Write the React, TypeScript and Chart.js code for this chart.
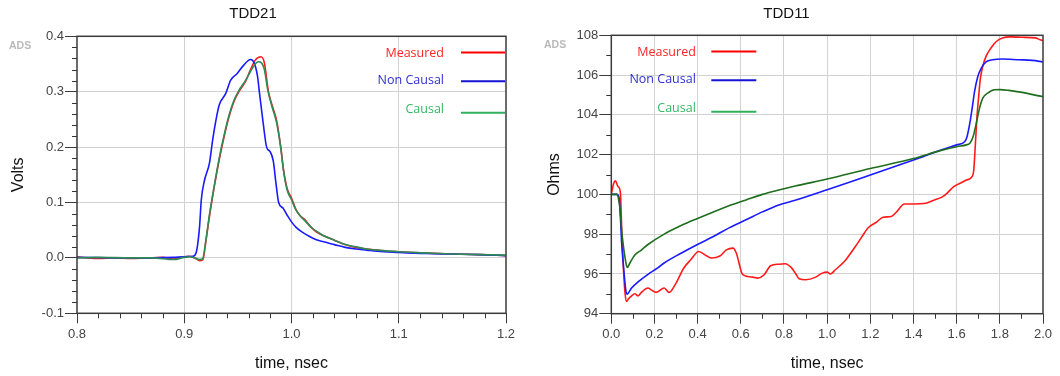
import React, { useEffect, useRef } from 'react';
import { Chart, registerables } from 'chart.js';

Chart.register(...registerables);

const FONT = '"Liberation Sans", Arial, sans-serif';
const LEGEND_FONT = '"Open Sans", "Noto Sans", sans-serif';

// ---------- TDD21 (Volts vs time, nsec) ----------
const tdd21MeasuredT = [0.800, 0.810, 0.820, 0.835, 0.850, 0.865, 0.880, 0.890, 0.897, 0.904, 0.910, 0.9143, 0.9174, 0.9204, 0.9235, 0.928, 0.9326, 0.9372, 0.9418, 0.9463, 0.9509, 0.957, 0.9616, 0.9662, 0.9716, 0.9747, 0.9785, 0.982, 0.986, 0.990, 0.9925, 0.996, 1.000, 1.004, 1.008, 1.013, 1.018, 1.023, 1.030, 1.040, 1.050, 1.060, 1.070, 1.080, 1.090, 1.100, 1.120, 1.150, 1.175, 1.200];
const tdd21MeasuredV = [0.002, 0.000, -0.001, 0.000, -0.001, 0.000, 0.001, -0.002, 0.001, 0.003, 0.000, -0.005, -0.003, 0.033, 0.075, 0.129, 0.177, 0.219, 0.255, 0.282, 0.300, 0.318, 0.339, 0.357, 0.363, 0.352, 0.300, 0.275, 0.249, 0.200, 0.160, 0.125, 0.108, 0.088, 0.076, 0.068, 0.056, 0.047, 0.040, 0.032, 0.024, 0.019, 0.016, 0.014, 0.012, 0.011, 0.009, 0.007, 0.006, 0.004];

const tdd21NonCausalT = [0.800, 0.850, 0.890, 0.900, 0.908, 0.911, 0.9143, 0.9159, 0.919, 0.9235, 0.9265, 0.9296, 0.9326, 0.9387, 0.9433, 0.9494, 0.9555, 0.9618, 0.9652, 0.9683, 0.970, 0.9738, 0.9768, 0.980, 0.983, 0.9855, 0.988, 0.992, 0.996, 1.000, 1.0043, 1.0104, 1.0165, 1.0226, 1.030, 1.040, 1.050, 1.060, 1.070, 1.080, 1.100, 1.125, 1.150, 1.175, 1.200];
const tdd21NonCausalV = [0.001, 0.000, 0.001, 0.002, 0.003, 0.009, 0.057, 0.105, 0.141, 0.171, 0.213, 0.249, 0.276, 0.297, 0.321, 0.333, 0.348, 0.358, 0.352, 0.328, 0.300, 0.240, 0.200, 0.192, 0.175, 0.135, 0.100, 0.090, 0.077, 0.065, 0.055, 0.046, 0.039, 0.033, 0.029, 0.024, 0.019, 0.016, 0.014, 0.012, 0.010, 0.008, 0.007, 0.006, 0.004];

const tdd21CausalT = [0.800, 0.820, 0.850, 0.870, 0.890, 0.900, 0.905, 0.910, 0.9143, 0.917, 0.9204, 0.9235, 0.928, 0.9326, 0.9372, 0.9418, 0.9463, 0.9509, 0.957, 0.9616, 0.9662, 0.9692, 0.972, 0.9747, 0.978, 0.982, 0.986, 0.990, 0.9925, 0.996, 1.000, 1.004, 1.009, 1.013, 1.019, 1.025, 1.030, 1.040, 1.050, 1.060, 1.070, 1.080, 1.100, 1.125, 1.150, 1.175, 1.200];
const tdd21CausalV = [0.000, 0.001, 0.000, 0.000, -0.003, 0.001, 0.002, 0.000, -0.003, -0.002, 0.035, 0.078, 0.130, 0.180, 0.222, 0.258, 0.284, 0.302, 0.320, 0.336, 0.350, 0.354, 0.352, 0.340, 0.302, 0.272, 0.245, 0.198, 0.158, 0.122, 0.105, 0.087, 0.074, 0.066, 0.054, 0.046, 0.040, 0.032, 0.024, 0.020, 0.016, 0.014, 0.011, 0.009, 0.007, 0.006, 0.005];

// ---------- TDD11 (Ohms vs time, nsec) ----------
const tdd11MeasuredT = [0.000, 0.011, 0.019, 0.031, 0.042, 0.048, 0.056, 0.064, 0.071, 0.079, 0.094, 0.109, 0.124, 0.139, 0.170, 0.185, 0.208, 0.245, 0.268, 0.298, 0.336, 0.367, 0.405, 0.427, 0.465, 0.503, 0.533, 0.564, 0.579, 0.609, 0.655, 0.677, 0.708, 0.738, 0.776, 0.806, 0.836, 0.855, 0.870, 0.900, 0.947, 0.977, 1.000, 1.015, 1.038, 1.084, 1.129, 1.160, 1.190, 1.228, 1.259, 1.297, 1.320, 1.358, 1.403, 1.449, 1.494, 1.532, 1.555, 1.585, 1.623, 1.645, 1.668, 1.679, 1.686, 1.694, 1.702, 1.709, 1.721, 1.736, 1.759, 1.785, 1.812, 1.850, 1.903, 1.964, 1.986, 2.000];
const tdd11MeasuredV = [100.0, 100.55, 100.68, 100.4, 100.1, 98.3, 96.3, 95.0, 94.62, 94.74, 94.9, 95.0, 94.9, 95.07, 95.29, 95.2, 95.07, 95.29, 95.07, 95.5, 96.3, 96.7, 97.13, 97.01, 96.8, 96.9, 97.21, 97.3, 97.05, 95.96, 95.84, 95.79, 95.96, 96.41, 96.49, 96.51, 96.29, 96.0, 95.76, 95.71, 95.84, 96.04, 96.09, 96.0, 96.21, 96.68, 97.35, 97.85, 98.32, 98.6, 98.85, 98.89, 99.1, 99.52, 99.52, 99.54, 99.71, 99.86, 100.05, 100.38, 100.6, 100.72, 100.85, 101.2, 102.4, 103.9, 104.92, 105.76, 106.44, 106.94, 107.36, 107.7, 107.87, 107.92, 107.9, 107.87, 107.78, 107.74];

const tdd11NonCausalT = [0.000, 0.026, 0.036, 0.042, 0.048, 0.058, 0.067, 0.074, 0.079, 0.094, 0.124, 0.170, 0.215, 0.245, 0.321, 0.397, 0.473, 0.548, 0.624, 0.700, 0.776, 0.852, 1.000, 1.200, 1.400, 1.524, 1.600, 1.638, 1.648, 1.661, 1.673, 1.683, 1.698, 1.714, 1.736, 1.767, 1.812, 1.888, 1.950, 2.000];
const tdd11NonCausalV = [100.0, 100.0, 99.82, 98.9, 97.55, 96.2, 95.2, 94.98, 95.04, 95.29, 95.6, 95.98, 96.3, 96.55, 97.03, 97.47, 97.88, 98.33, 98.72, 99.12, 99.47, 99.7, 100.23, 100.98, 101.73, 102.22, 102.49, 102.66, 102.9, 103.58, 104.42, 105.18, 105.93, 106.35, 106.66, 106.77, 106.81, 106.77, 106.74, 106.66];

const tdd11CausalT = [0.000, 0.025, 0.033, 0.041, 0.048, 0.056, 0.064, 0.071, 0.075, 0.086, 0.109, 0.139, 0.170, 0.245, 0.321, 0.397, 0.473, 0.548, 0.624, 0.700, 0.776, 0.852, 1.000, 1.200, 1.400, 1.524, 1.600, 1.645, 1.661, 1.676, 1.691, 1.706, 1.721, 1.744, 1.774, 1.800, 1.842, 1.903, 1.964, 2.000];
const tdd11CausalV = [100.0, 100.0, 99.8, 99.2, 98.2, 97.4, 96.8, 96.4, 96.33, 96.55, 96.95, 97.2, 97.48, 98.0, 98.42, 98.78, 99.12, 99.44, 99.72, 100.0, 100.22, 100.42, 100.77, 101.3, 101.8, 102.2, 102.4, 102.49, 102.57, 102.9, 103.58, 104.34, 104.84, 105.09, 105.26, 105.27, 105.23, 105.13, 104.99, 104.92];

const seriesLabels = ['Measured', 'Non Causal', 'Causal'];

type Series = {
  label: string; t: number[]; v: number[];
  color: string; legendLine: string; legendText: string; order: number;
};

type PanelSpec = {
  title: string; yTitle: string;
  xMin: number; xMax: number; xMinor: number; xMajor: number;
  yMin: number; yMax: number; yMinor: number; yMajor: number; yDigits: number;
  yScaleWidth: number; xScaleHeight: number; padRight: number; titlePadBottom: number; yTitlePad: number;
  legendFromRight: boolean; legendTextOff: number; legendLineOff: [number, number];
  adsX: number;
  series: Series[];
};

const zip = (t: number[], v: number[]) => {
  const n = Math.min(t.length, v.length);
  const out: { x: number; y: number }[] = [];
  for (let i = 0; i < n; i++) out.push({ x: t[i], y: v[i] });
  return out;
};

const isMajor = (v: number, step: number) => {
  const r = v / step;
  return Math.abs(r - Math.round(r)) < 1e-6;
};

const LEGEND_TEXT_ROWS = [17.5, 44.5, 73.5];
const LEGEND_LINE_ROWS = [16.3, 45, 76.5];

function buildConfig(spec: PanelSpec): any {
  const decor = {
    id: 'decor',
    afterDraw(chart: any) {
      const { ctx, chartArea } = chart;
      const { left, right, top, bottom } = chartArea;
      const xs = chart.scales.x;
      const ys = chart.scales.y;
      ctx.save();
      // minor ticks
      ctx.strokeStyle = '#333';
      ctx.lineWidth = 1;
      ctx.beginPath();
      xs.ticks.forEach((t: any) => {
        if (!isMajor(t.value, spec.xMajor)) {
          const px = Math.round(xs.getPixelForValue(t.value)) + 0.5;
          ctx.moveTo(px, bottom);
          ctx.lineTo(px, bottom + 5);
        }
      });
      ys.ticks.forEach((t: any) => {
        if (!isMajor(t.value, spec.yMajor)) {
          const py = Math.round(ys.getPixelForValue(t.value)) + 0.5;
          ctx.moveTo(left - 5, py);
          ctx.lineTo(left, py);
        }
      });
      ctx.stroke();
      // frame
      ctx.strokeStyle = '#3a3a3a';
      ctx.lineWidth = 1.5;
      ctx.strokeRect(left, top, right - left, bottom - top);
      // legend
      ctx.font = `12.5px ${LEGEND_FONT}`;
      ctx.textAlign = 'right';
      ctx.textBaseline = 'middle';
      const base = spec.legendFromRight ? right : left;
      const sign = spec.legendFromRight ? -1 : 1;
      spec.series.forEach((s, i) => {
        const ty = top + LEGEND_TEXT_ROWS[i];
        const ly = top + LEGEND_LINE_ROWS[i];
        ctx.fillStyle = s.legendText;
        ctx.fillText(s.label, base + sign * spec.legendTextOff, ty);
        ctx.strokeStyle = s.legendLine;
        ctx.lineWidth = 2;
        ctx.beginPath();
        ctx.moveTo(base + sign * spec.legendLineOff[0], ly);
        ctx.lineTo(base + sign * spec.legendLineOff[1], ly);
        ctx.stroke();
      });
      // ADS mark
      ctx.font = `bold 10.5px ${FONT}`;
      ctx.textAlign = 'left';
      ctx.fillStyle = '#b9b9b9';
      ctx.fillText('ADS', spec.adsX, top + 9.5);
      ctx.restore();
    },
  };

  const gridColor = (step: number, min: number, max: number) => (c: any) => {
    const v = c.tick ? c.tick.value : NaN;
    if (!isMajor(v, step)) return 'rgba(0,0,0,0)';
    if (Math.abs(v - min) < 1e-9 || Math.abs(v - max) < 1e-9) return 'rgba(0,0,0,0)';
    return '#d2d2d2';
  };
  const tickColor = (step: number) => (c: any) => {
    const v = c.tick ? c.tick.value : NaN;
    return isMajor(v, step) ? '#3a3a3a' : 'rgba(0,0,0,0)';
  };

  return {
    type: 'line',
    data: {
      datasets: spec.series.map((s) => ({
        label: s.label,
        data: zip(s.t, s.v),
        borderColor: s.color,
        backgroundColor: s.color,
        borderWidth: 1.6,
        pointRadius: 0,
        fill: false,
        cubicInterpolationMode: 'monotone',
        order: s.order,
      })),
    },
    options: {
      animation: false,
      responsive: false,
      maintainAspectRatio: false,
      layout: { padding: { left: 0, right: spec.padRight, top: 0, bottom: 0 } },
      plugins: {
        legend: { display: false },
        tooltip: { enabled: false },
        title: {
          display: true,
          text: spec.title,
          color: '#111',
          font: { family: FONT, size: 15, weight: 'normal' },
          padding: { top: 5, bottom: spec.titlePadBottom },
        },
      },
      scales: {
        x: {
          type: 'linear',
          min: spec.xMin,
          max: spec.xMax,
          afterFit: (s: any) => { s.height = spec.xScaleHeight; },
          border: { display: false },
          grid: {
            color: gridColor(spec.xMajor, spec.xMin, spec.xMax),
            tickColor: tickColor(spec.xMajor),
            tickLength: 10,
            lineWidth: 1,
          },
          ticks: {
            stepSize: spec.xMinor,
            autoSkip: false,
            maxRotation: 0,
            minRotation: 0,
            padding: 3,
            color: '#444',
            font: { family: FONT, size: 13 },
            callback: (v: any) => (isMajor(Number(v), spec.xMajor) ? Number(v).toFixed(1) : ''),
          },
          title: {
            display: true,
            text: 'time, nsec',
            color: '#111',
            font: { family: FONT, size: 16 },
            padding: { top: 0, bottom: 3 },
          },
        },
        y: {
          type: 'linear',
          min: spec.yMin,
          max: spec.yMax,
          afterFit: (s: any) => { s.width = spec.yScaleWidth; },
          border: { display: false },
          grid: {
            color: gridColor(spec.yMajor, spec.yMin, spec.yMax),
            tickColor: tickColor(spec.yMajor),
            tickLength: 12,
            lineWidth: 1,
          },
          ticks: {
            stepSize: spec.yMinor,
            autoSkip: false,
            padding: 1,
            color: '#444',
            font: { family: FONT, size: 13 },
            callback: (v: any) => (isMajor(Number(v), spec.yMajor) ? Number(v).toFixed(spec.yDigits) : ''),
          },
          title: {
            display: true,
            text: spec.yTitle,
            color: '#111',
            font: { family: FONT, size: 16 },
            padding: { top: spec.yTitlePad, bottom: 0 },
          },
        },
      },
    },
    plugins: [decor],
  };
}

const leftSpec: PanelSpec = {
  title: 'TDD21', yTitle: 'Volts',
  xMin: 0.8, xMax: 1.2, xMinor: 0.02, xMajor: 0.1,
  yMin: -0.1, yMax: 0.4, yMinor: 0.02, yMajor: 0.1, yDigits: 1,
  yScaleWidth: 77, xScaleHeight: 62.7, padRight: 24, titlePadBottom: 13.3, yTitlePad: 8.7,
  legendFromRight: true, legendTextOff: 62, legendLineOff: [45, 1],
  adsX: 9,
  series: [
    { label: seriesLabels[0], t: tdd21MeasuredT, v: tdd21MeasuredV, color: '#ff1a1a', legendLine: '#ff0000', legendText: '#ff2424', order: 2 },
    { label: seriesLabels[1], t: tdd21NonCausalT, v: tdd21NonCausalV, color: '#1a1aff', legendLine: '#1414d2', legendText: '#2e2ed0', order: 1 },
    { label: seriesLabels[2], t: tdd21CausalT, v: tdd21CausalV, color: '#2e8b57', legendLine: '#2eb05c', legendText: '#33b864', order: 0 },
  ],
};

const rightSpec: PanelSpec = {
  title: 'TDD11', yTitle: 'Ohms',
  xMin: 0, xMax: 2, xMinor: 0.1, xMajor: 0.2,
  yMin: 94, yMax: 108, yMinor: 1, yMajor: 2, yDigits: 0,
  yScaleWidth: 81.3, xScaleHeight: 62.3, padRight: 17, titlePadBottom: 12.3, yTitlePad: 15.4,
  legendFromRight: false, legendTextOff: 84.5, legendLineOff: [100, 145],
  adsX: 14,
  series: [
    { label: seriesLabels[0], t: tdd11MeasuredT, v: tdd11MeasuredV, color: '#ff1a1a', legendLine: '#ff0000', legendText: '#ff2424', order: 2 },
    { label: seriesLabels[1], t: tdd11NonCausalT, v: tdd11NonCausalV, color: '#1a1aff', legendLine: '#1414d2', legendText: '#2e2ed0', order: 1 },
    { label: seriesLabels[2], t: tdd11CausalT, v: tdd11CausalV, color: '#1e6e1e', legendLine: '#2eb05c', legendText: '#33b864', order: 0 },
  ],
};

function Panel({ spec, left }: { spec: PanelSpec; left: number }) {
  const ref = useRef<HTMLCanvasElement | null>(null);
  useEffect(() => {
    if (!ref.current) return;
    const chart = new Chart(ref.current, buildConfig(spec));
    return () => chart.destroy();
  }, [spec]);
  return (
    <canvas
      ref={ref}
      width={530}
      height={376}
      style={{ position: 'absolute', left, top: 0, width: 530, height: 376, display: 'block' }}
    />
  );
}

export default function App() {
  return (
    <div style={{ position: 'absolute', left: 0, top: 0, width: 1060, height: 376, background: '#fff', overflow: 'hidden' }}>
      <Panel spec={leftSpec} left={0} />
      <Panel spec={rightSpec} left={530} />
    </div>
  );
}
